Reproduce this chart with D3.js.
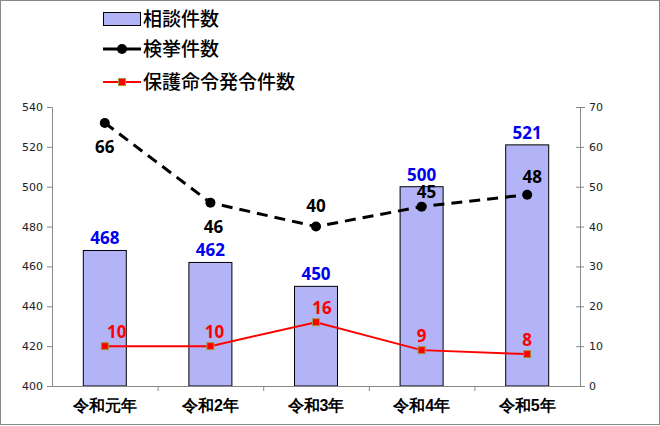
<!DOCTYPE html>
<html>
<head>
<meta charset="utf-8">
<script src="https://cdn.jsdelivr.net/npm/d3@7"></script>
<style>
  body { margin: 0; background: #fff; }
  svg { display: block; font-family: "Noto Sans CJK JP", "Noto Sans", sans-serif; }
</style>
</head>
<body>
<div id="chart"></div>
<script>
// data
var categories = ["令和元年", "令和2年", "令和3年", "令和4年", "令和5年"];
var consults = [468, 462, 450, 500, 521];       // 相談件数 (left axis)
var arrests = [66, 46, 40, 45, 48];             // 検挙件数 (right axis)
var orders = [10, 10, 16, 9, 8];                // 保護命令発令件数 (right axis)
var leftTicks = [400, 420, 440, 460, 480, 500, 520, 540];
var rightTicks = [0, 10, 20, 30, 40, 50, 60, 70];
var seriesNames = ["相談件数", "検挙件数", "保護命令発令件数"];

var W = 660, H = 426;
var plot = {left: 52, right: 580, top: 107, bottom: 386};

var svg = d3.select("#chart").append("svg")
  .attr("width", W).attr("height", H);

// outer frame
svg.append("rect")
  .attr("x", 0.5).attr("y", 0.5)
  .attr("width", W - 1).attr("height", H - 2)
  .attr("fill", "#fff").attr("stroke", "#888");

var x = d3.scaleBand().domain(categories).range([plot.left, plot.right]).padding(0);
var yL = d3.scaleLinear().domain([400, 540]).range([plot.bottom, plot.top]);
var yR = d3.scaleLinear().domain([0, 70]).range([plot.bottom, plot.top]);

// bars
var barW = 43;
svg.selectAll(".bar")
  .data(consults)
  .enter().append("rect")
  .attr("class", "bar")
  .attr("x", (d, i) => x(categories[i]) + x.bandwidth() / 2 - barW / 2)
  .attr("y", d => yL(d))
  .attr("width", barW)
  .attr("height", d => plot.bottom - yL(d))
  .attr("fill", "#b3b3f7")
  .attr("stroke", "#000").attr("stroke-width", 1);

// axes
var axisColor = "#888";
var gL = svg.append("g").attr("transform", "translate(" + plot.left + ",0)")
  .call(d3.axisLeft(yL).tickValues(leftTicks).tickSize(5).tickPadding(4));
var gR = svg.append("g").attr("transform", "translate(" + plot.right + ",0)")
  .call(d3.axisRight(yR).tickValues(rightTicks).tickSize(5).tickPadding(4));
var gB = svg.append("g").attr("transform", "translate(0," + plot.bottom + ")")
  .call(d3.axisBottom(x).tickSize(0).tickPadding(14));

[gL, gR].forEach(function(g) {
  g.select(".domain").attr("stroke", axisColor);
  g.selectAll(".tick line").attr("stroke", axisColor);
  g.selectAll(".tick text")
    .style("font-family", "'DejaVu Sans', sans-serif")
    .style("font-size", "11px").attr("fill", "#222");
});
gR.selectAll(".tick line").attr("x1", -4).attr("x2", 4);
gB.select(".domain").attr("stroke", axisColor);
gB.selectAll(".tick text")
  .style("font-size", "16px").style("font-weight", "bold").attr("fill", "#000");

// category separator ticks
svg.selectAll(".sep")
  .data(categories.slice(1))
  .enter().append("line")
  .attr("x1", d => x(d) + 0.5).attr("x2", d => x(d) + 0.5)
  .attr("y1", plot.bottom).attr("y2", plot.bottom + 5)
  .attr("stroke", axisColor);

var cx = (d, i) => x(categories[i]) + x.bandwidth() / 2;

// 検挙件数 dashed line
var lineA = d3.line().x(cx).y(d => yR(d));
svg.append("path")
  .datum(arrests)
  .attr("d", lineA)
  .attr("fill", "none").attr("stroke", "#000")
  .attr("stroke-width", 3).attr("stroke-dasharray", "11,7");
svg.selectAll(".dotA")
  .data(arrests).enter().append("circle")
  .attr("cx", cx).attr("cy", d => yR(d)).attr("r", 5).attr("fill", "#000");

// 保護命令発令件数 red line
svg.append("path")
  .datum(orders)
  .attr("d", d3.line().x(cx).y(d => yR(d)))
  .attr("fill", "none").attr("stroke", "#f00").attr("stroke-width", 2);
svg.selectAll(".sqO")
  .data(orders).enter().append("rect")
  .attr("x", (d, i) => cx(d, i) - 3.5).attr("y", d => yR(d) - 3.5)
  .attr("width", 7).attr("height", 7)
  .attr("fill", "#f00").attr("stroke", "#9c9c3c").attr("stroke-width", 1);

// labels
var numFont = "'Open Sans', 'Noto Sans', sans-serif";
svg.selectAll(".lblC")
  .data(consults).enter().append("text")
  .attr("x", cx).attr("y", d => yL(d) - 6)
  .attr("text-anchor", "middle")
  .style("font-family", numFont).style("font-size", "17px").style("font-weight", "bold")
  .attr("fill", "#0000ee").text(d => d);

var arrestDy = [30, 30, -15, -9, -12];
var arrestDx = [0, 3, 0, 5, 5];
svg.selectAll(".lblA")
  .data(arrests).enter().append("text")
  .attr("x", (d, i) => cx(d, i) + arrestDx[i]).attr("y", (d, i) => yR(d) + arrestDy[i])
  .attr("text-anchor", "middle")
  .style("font-family", numFont).style("font-size", "17px").style("font-weight", "bold")
  .attr("fill", "#000").text(d => d);

var orderDx = [12, 4, 6, 0, 0];
svg.selectAll(".lblO")
  .data(orders).enter().append("text")
  .attr("x", (d, i) => cx(d, i) + orderDx[i]).attr("y", d => yR(d) - 8)
  .attr("text-anchor", "middle")
  .style("font-family", numFont).style("font-size", "17px").style("font-weight", "bold")
  .attr("fill", "#f00").text(d => d);

// legend
var leg = svg.append("g");
leg.append("rect").attr("x", 103.5).attr("y", 12.5).attr("width", 37).attr("height", 13)
  .attr("fill", "#b3b3f7").attr("stroke", "#000");
leg.append("line").attr("x1", 103).attr("x2", 141).attr("y1", 49).attr("y2", 49)
  .attr("stroke", "#000").attr("stroke-width", 3);
leg.append("circle").attr("cx", 122).attr("cy", 49).attr("r", 5).attr("fill", "#000");
leg.append("line").attr("x1", 103).attr("x2", 141).attr("y1", 82).attr("y2", 82)
  .attr("stroke", "#f00").attr("stroke-width", 2);
leg.append("rect").attr("x", 118.5).attr("y", 78.5).attr("width", 7).attr("height", 7)
  .attr("fill", "#f00").attr("stroke", "#9c9c3c");
leg.selectAll(".lt")
  .data(seriesNames).enter().append("text")
  .attr("x", 143).attr("y", (d, i) => [26, 56, 89][i])
  .style("font-size", "19px").style("font-weight", "500").attr("fill", "#000")
  .text(d => d);
</script>
</body>
</html>
